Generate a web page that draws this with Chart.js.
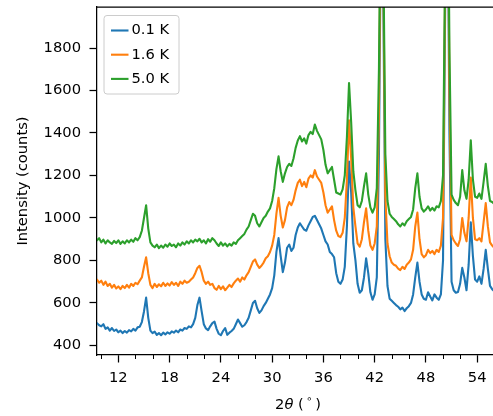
<!DOCTYPE html>
<html>
<head>
<meta charset="utf-8">
<script src="https://cdn.jsdelivr.net/npm/chart.js@4"></script>
<style>
  html, body { margin: 0; padding: 0; background: #fff; overflow: hidden; }
  canvas { display: block; }
</style>
</head>
<body>
<canvas id="xrdChart" width="493" height="416" style="width:493px;height:416px"></canvas>
<script>
// 2-theta positions (degrees) shared by all three scans
const twoTheta = [
  9.5, 9.75,
  10, 10.25, 10.5, 10.75, 11, 11.25, 11.5, 11.75, 12, 12.25, 12.5, 12.75, 13, 13.25, 13.5, 13.75,
  14, 14.25, 14.5, 14.75, 15, 15.25, 15.5, 15.75, 16, 16.25, 16.5, 16.75, 17, 17.25, 17.5, 17.75,
  18, 18.25, 18.5, 18.75, 19, 19.25, 19.5, 19.75, 20, 20.25, 20.5, 20.75, 21, 21.25, 21.5, 21.75,
  22, 22.25, 22.5, 22.75, 23, 23.25, 23.5, 23.75, 24, 24.25, 24.5, 24.75, 25, 25.25, 25.5, 25.75,
  26, 26.25, 26.5, 26.75, 27, 27.25, 27.5, 27.75, 28, 28.25, 28.5, 28.75, 29, 29.25, 29.5, 29.75,
  30, 30.25, 30.5, 30.75, 31, 31.25, 31.5, 31.75, 32, 32.25, 32.5, 32.75, 33, 33.25, 33.5, 33.75,
  34, 34.25, 34.5, 34.75, 35, 35.25, 35.5, 35.75, 36, 36.25, 36.5, 36.75, 37, 37.25, 37.5, 37.75,
  38, 38.25, 38.5, 38.75, 39, 39.25, 39.5, 39.75, 40, 40.25, 40.5, 40.75, 41, 41.25, 41.5, 41.75,
  42, 42.25, 42.5, 42.75, 43, 43.25, 43.5, 43.75, 44, 44.25, 44.5, 44.75, 45, 45.25, 45.5, 45.75,
  46, 46.25, 46.5, 46.75, 47, 47.25, 47.5, 47.75, 48, 48.25, 48.5, 48.75, 49, 49.25, 49.5, 49.75,
  50, 50.25, 50.5, 50.75, 51, 51.25, 51.5, 51.75, 52, 52.25, 52.5, 52.75, 53, 53.25, 53.5, 53.75,
  54, 54.25, 54.5, 54.75, 55, 55.25, 55.5, 55.75,
  56
];

// counts, 0.1 K
const counts01K = [
  505, 495,
  490, 500, 478, 485, 470, 482, 468, 475, 462, 470, 458, 468, 460, 472, 466, 478,
  470, 485, 488, 510, 560, 625, 530, 470, 458, 465, 450, 458, 448, 460, 452, 462,
  455, 466, 460, 470, 462, 475, 470, 482, 478, 490, 485, 500, 530, 590, 625, 560,
  500, 480, 472, 490, 505, 512, 478, 455, 448, 468, 482, 450, 460, 468, 478, 500,
  522, 505, 488, 495, 510, 530, 565, 600, 610, 575, 553, 565, 585, 600, 620, 640,
  670, 730, 840, 905, 820, 745, 790, 860, 875, 845, 860, 920, 955, 975, 960, 945,
  940, 965, 985, 1005, 1010, 990, 970, 950, 920, 890, 875, 840, 830, 815, 740, 700,
  690, 710, 770, 960, 1265, 1120, 880, 800, 690, 648, 660, 720, 810, 740, 650, 615,
  640, 720, 1300, 2500, 2100, 900, 680, 620, 610, 600, 590, 582, 570, 578, 562, 575,
  585, 600, 640, 720, 790, 700, 640, 620, 615, 650, 630, 612, 640, 625, 615, 640,
  800, 2000, 2800, 1400, 700, 660, 648, 652, 690, 765, 720, 660, 780, 980, 820, 710,
  700, 725, 690, 760, 850, 760, 680, 665,
  655
];

// counts, 1.6 K
const counts16K = [
  710, 695,
  705, 685, 700, 680, 690, 672, 685, 668, 678, 665, 680, 670, 685, 672, 690, 680,
  695, 688, 705, 720, 770, 815, 740, 685, 670, 690, 675, 688, 678, 695, 680, 692,
  682, 698, 685, 695, 680, 700, 690, 705, 695, 700, 710, 720, 740, 765, 775, 745,
  705, 690, 700, 685, 690, 670, 662, 680, 665, 678, 660, 672, 685, 675, 692, 705,
  715, 700, 720, 710, 730, 745, 770, 795, 805, 780, 765, 775, 790, 810, 820, 840,
  870, 920, 1020, 1095, 1010, 955, 990, 1050, 1075, 1060, 1085, 1130, 1165, 1180, 1150, 1170,
  1145, 1185, 1200, 1190, 1225, 1195, 1180, 1165, 1120, 1060, 1025, 1040, 1055, 990, 940, 915,
  910, 930, 1000, 1180, 1460, 1280, 1050, 960, 880, 865, 900, 980, 1045, 940, 870, 850,
  880, 960, 1500, 2600, 2200, 1100, 880, 820, 790, 780, 775, 762, 755, 770, 760, 780,
  790, 805, 850, 960, 1025, 900, 830, 815, 825, 850, 835, 845, 830, 850, 840, 870,
  1000, 2100, 2900, 1600, 920, 895, 880, 868, 900, 1000, 930, 890, 1000, 1190, 1000, 900,
  895, 905, 890, 980, 1070, 960, 885, 870,
  860
];

// counts, 5.0 K
const counts50K = [
  895, 905,
  885, 898, 880, 895, 885, 878, 892, 882, 895, 878, 890, 880, 895, 885, 898, 888,
  905, 895, 910, 940, 1000, 1060, 950, 885, 870, 862, 875, 858, 870, 860, 875, 865,
  880, 868, 875, 862, 880, 870, 885, 875, 890, 880, 895, 885, 898, 890, 902, 885,
  895, 880, 900, 888, 905, 895, 880, 868, 885, 870, 880, 866, 878, 870, 885, 878,
  895, 905, 915, 925, 945, 960, 990, 1020, 1010, 975, 960, 980, 1000, 1010, 1030, 1045,
  1080, 1140, 1230, 1290, 1220, 1170, 1210, 1240, 1255, 1245, 1280, 1330, 1365, 1385, 1360, 1375,
  1350, 1390, 1405, 1395, 1440, 1410, 1390, 1370, 1320, 1250, 1210, 1225, 1240, 1180, 1120, 1115,
  1110, 1135, 1200, 1380, 1635, 1450, 1220, 1130, 1060, 1050, 1080, 1150, 1210, 1110, 1050, 1025,
  1050, 1140, 1700, 2700, 2300, 1300, 1080, 1020, 1005, 995, 985, 970, 960, 975, 965, 985,
  995, 1005, 1040, 1140, 1210, 1100, 1045, 1030, 1040, 1055, 1035, 1048, 1035, 1055, 1050, 1080,
  1200, 2200, 3000, 1800, 1110, 1085, 1070, 1060, 1100, 1225, 1130, 1090, 1180, 1365, 1180, 1100,
  1095, 1115, 1090, 1170, 1255, 1150, 1080, 1075,
  1065
];

const seriesLabels = ['0.1 K', '1.6 K', '5.0 K'];
const seriesColors = ['#1f77b4', '#ff7f0e', '#2ca02c'];

const xTicks = [12, 18, 24, 30, 36, 42, 48, 54];
const xMinorTicks = [10, 14, 16, 20, 22, 26, 28, 32, 34, 38, 40, 44, 46, 50, 52];
const yTicks = [400, 600, 800, 1000, 1200, 1400, 1600, 1800];

const FONT = 'DejaVu Sans';
const FSIZE = 14.7;
const LINE_W = 2.1;

Chart.defaults.font.family = FONT;
Chart.defaults.font.size = FSIZE;
Chart.defaults.color = '#000';

function toPoints(ys) {
    return twoTheta.map((x, i) => ({ x: x, y: ys[i] }));
}

// top spine, minor ticks, legend box and the x-axis title (mathtext look)
const decorations = {
    id: 'decorations',
    afterDraw(chart) {
        const ctx = chart.ctx;
        const area = chart.chartArea;
        const xs = chart.scales.x;
        ctx.save();

        ctx.strokeStyle = '#000';
        ctx.lineWidth = 1.25;
        ctx.beginPath();
        ctx.moveTo(area.left, area.top);
        ctx.lineTo(area.right, area.top);
        ctx.stroke();

        ctx.lineWidth = 1;
        xMinorTicks.forEach(v => {
            const px = Math.round(xs.getPixelForValue(v)) + 0.5;
            ctx.beginPath();
            ctx.moveTo(px, area.bottom);
            ctx.lineTo(px, area.bottom + 4);
            ctx.stroke();
        });

        // legend
        ctx.beginPath();
        ctx.roundRect(104, 15.5, 75, 78.5, 3);
        ctx.fillStyle = 'rgba(255,255,255,0.8)';
        ctx.fill();
        ctx.strokeStyle = '#cccccc';
        ctx.lineWidth = 1;
        ctx.stroke();
        ctx.font = FSIZE + 'px "' + FONT + '"';
        ctx.textBaseline = 'middle';
        ctx.textAlign = 'left';
        chart.data.datasets.forEach((ds, i) => {
            const y = 30.5 + i * 24.2;
            ctx.strokeStyle = ds.borderColor;
            ctx.lineWidth = LINE_W;
            ctx.beginPath();
            ctx.moveTo(111, y);
            ctx.lineTo(128.5, y);
            ctx.stroke();
            ctx.fillStyle = '#000';
            ctx.fillText(ds.label, 131.5, y);
        });

        // x title: 2θ (°) with italic theta and raised ring
        const base = 408.7;
        const normal = FSIZE + 'px "' + FONT + '"';
        const italic = 'italic ' + FSIZE + 'px "' + FONT + '"';
        const small = '10.3px "' + FONT + '"';
        ctx.textBaseline = 'alphabetic';
        ctx.fillStyle = '#000';
        ctx.font = normal; const w2 = ctx.measureText('2').width;
        ctx.font = italic; const wt = ctx.measureText('θ').width;
        ctx.font = normal; const wo = ctx.measureText(' (').width;
        ctx.font = small; const wr = ctx.measureText('∘').width;
        ctx.font = normal; const wc = ctx.measureText(')').width;
        const gap = 2.5;
        const total = w2 + wt + wo + gap + wr + gap + wc;
        let x = 298 - total / 2;
        ctx.font = normal; ctx.fillText('2', x, base); x += w2;
        ctx.font = italic; ctx.fillText('θ', x, base); x += wt;
        ctx.font = normal; ctx.fillText(' (', x, base); x += wo + gap;
        ctx.font = small; ctx.fillText('∘', x, base - 7); x += wr + gap;
        ctx.font = normal; ctx.fillText(')', x, base);

        ctx.restore();
    }
};

new Chart(document.getElementById('xrdChart'), {
    type: 'line',
    data: {
        datasets: [
            { label: seriesLabels[0], data: toPoints(counts01K), borderColor: seriesColors[0], order: 3 },
            { label: seriesLabels[1], data: toPoints(counts16K), borderColor: seriesColors[1], order: 2 },
            { label: seriesLabels[2], data: toPoints(counts50K), borderColor: seriesColors[2], order: 1 }
        ]
    },
    options: {
        responsive: false,
        animation: false,
        parsing: false,
        layout: { padding: { top: 7, right: 0, bottom: 0, left: 0 } },
        elements: {
            line: { borderWidth: LINE_W, tension: 0, fill: false, borderJoinStyle: 'round', borderCapStyle: 'round' },
            point: { radius: 0 }
        },
        plugins: {
            legend: { display: false },
            tooltip: { enabled: false }
        },
        scales: {
            x: {
                type: 'linear',
                min: 9.5,
                max: 55.85,
                afterBuildTicks: axis => { axis.ticks = xTicks.map(v => ({ value: v })); },
                afterFit: axis => {
                    axis.height = 61;
                    axis.paddingLeft = 0;
                    axis.paddingRight = 0;
                },
                ticks: {
                    autoSkip: false,
                    maxRotation: 0,
                    padding: 7,
                    color: '#000',
                    callback: v => String(v)
                },
                grid: {
                    drawOnChartArea: false,
                    drawTicks: true,
                    tickLength: 7.5,
                    tickColor: '#000',
                    tickWidth: 1.25
                },
                border: { display: true, color: '#000', width: 1.25 },
                title: { display: false }
            },
            y: {
                type: 'linear',
                min: 355,
                max: 1993,
                afterBuildTicks: axis => { axis.ticks = yTicks.map(v => ({ value: v })); },
                afterFit: axis => {
                    axis.width = 97;
                    axis.paddingTop = 0;
                    axis.paddingBottom = 0;
                },
                ticks: {
                    autoSkip: false,
                    padding: 8.5,
                    color: '#000',
                    callback: v => String(v)
                },
                grid: {
                    drawOnChartArea: false,
                    drawTicks: true,
                    tickLength: 7.5,
                    tickColor: '#000',
                    tickWidth: 1.25
                },
                border: { display: true, color: '#000', width: 1.25 },
                title: {
                    display: true,
                    text: 'Intensity (counts)',
                    color: '#000',
                    font: { size: FSIZE },
                    padding: { top: 14.7, bottom: 0 }
                }
            }
        }
    },
    plugins: [decorations]
});
</script>
</body>
</html>
